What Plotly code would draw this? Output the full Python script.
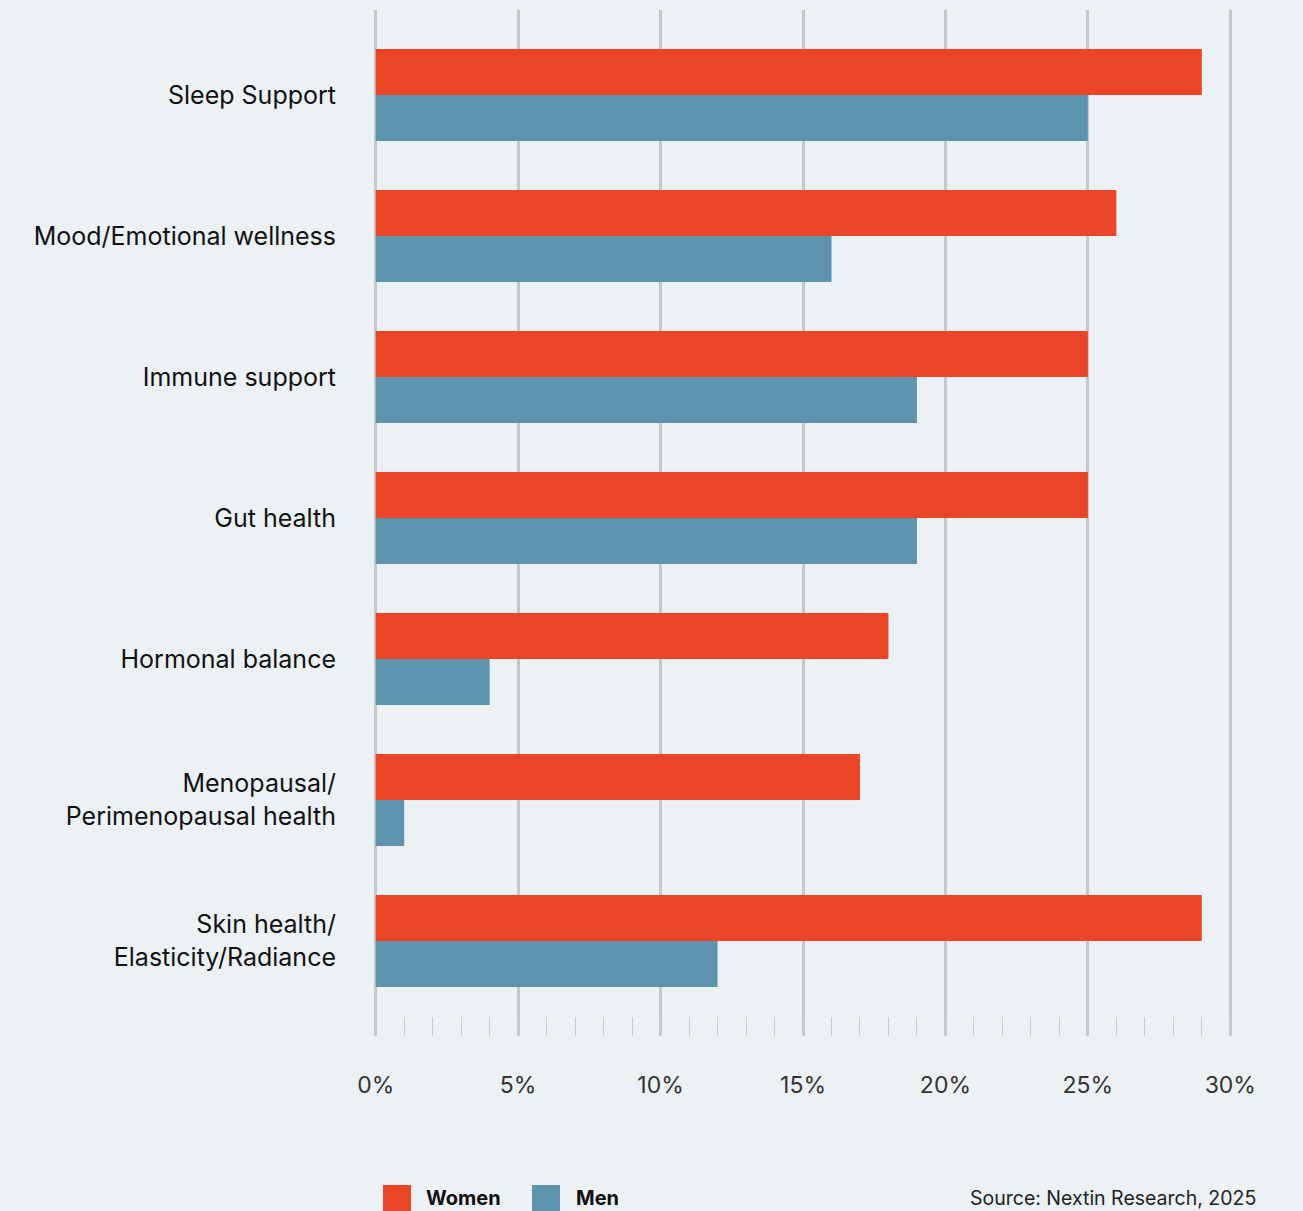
import plotly.graph_objects as go

categories = ["Sleep Support", "Mood/Emotional wellness", "Immune support", "Gut health",
              "Hormonal balance", "Menopausal/<br>Perimenopausal health",
              "Skin health/<br>Elasticity/Radiance"]
women = [29, 26, 25, 25, 18, 17, 29]
men = [25, 16, 19, 19, 4, 1, 12]
tick_vals = [0, 5, 10, 15, 20, 25, 30]
tick_text = ["0%", "5%", "10%", "15%", "20%", "25%", "30%"]

RED = "#EA4526"
BLUE = "#5E93AD"
BG = "#ECF1F4"
FONT = "Inter, Lato, sans-serif"

L, R, T, B = 374, 71, 10, 175
PW = 1303 - L - R
PH = 1211 - T - B


def px(x):
    return (x - L) / PW


def py(y):
    return (1211 - B - y) / PH


fig = go.Figure()
fig.add_trace(go.Bar(y=categories, x=women, orientation="h", name="Women",
                     marker=dict(color=RED, line=dict(width=0))))
fig.add_trace(go.Bar(y=categories, x=men, orientation="h", name="Men",
                     marker=dict(color=BLUE, line=dict(width=0))))

fig.update_layout(
    width=1303, height=1211,
    paper_bgcolor=BG, plot_bgcolor=BG,
    margin=dict(l=L, r=R, t=T, b=B),
    barmode="group", bargap=0.348, bargroupgap=0,
    showlegend=False,
    font=dict(family=FONT, color="#111111"),
)
fig.update_xaxes(
    range=[-0.06, 30.06], tickvals=tick_vals, ticktext=tick_text,
    showgrid=True, gridcolor="#C5C8CA", gridwidth=2.5,
    zeroline=False, showline=False,
    ticks="", ticklabelstandoff=33,
    tickfont=dict(size=23, color="#333333", family=FONT),
    minor=dict(dtick=1, tick0=0, ticks="inside", ticklen=19, tickcolor="#C9CCCE",
               tickwidth=1, showgrid=False),
)
fig.update_yaxes(
    type="category", range=[6.674, -0.603],
    showgrid=False, zeroline=False, showline=False, ticks="",
    ticklabelstandoff=37,
    tickfont=dict(size=25, color="#111111", family=FONT),
)

# Legend (drawn as layout items)
fig.add_shape(type="rect", xref="paper", yref="paper", x0=px(383), x1=px(411),
              y0=py(1211), y1=py(1185), fillcolor=RED, line=dict(width=0))
fig.add_shape(type="rect", xref="paper", yref="paper", x0=px(532), x1=px(560),
              y0=py(1211), y1=py(1185), fillcolor=BLUE, line=dict(width=0))
fig.add_annotation(xref="paper", yref="paper", x=px(424), y=py(1198),
                   text="<b>Women</b>", showarrow=False, xanchor="left", yanchor="middle",
                   font=dict(size=20, color="#111111", family=FONT))
fig.add_annotation(xref="paper", yref="paper", x=px(574), y=py(1198),
                   text="<b>Men</b>", showarrow=False, xanchor="left", yanchor="middle",
                   font=dict(size=20, color="#111111", family=FONT))
fig.add_annotation(xref="paper", yref="paper", x=px(1258), y=py(1198),
                   text="Source: Nextin Research, 2025", showarrow=False, xanchor="right",
                   yanchor="middle", font=dict(size=19.5, color="#222222", family=FONT))

fig.write_html("out.html", config={"displayModeBar": False},
               post_script="document.body.style.margin='0';document.body.style.overflow='hidden';")
